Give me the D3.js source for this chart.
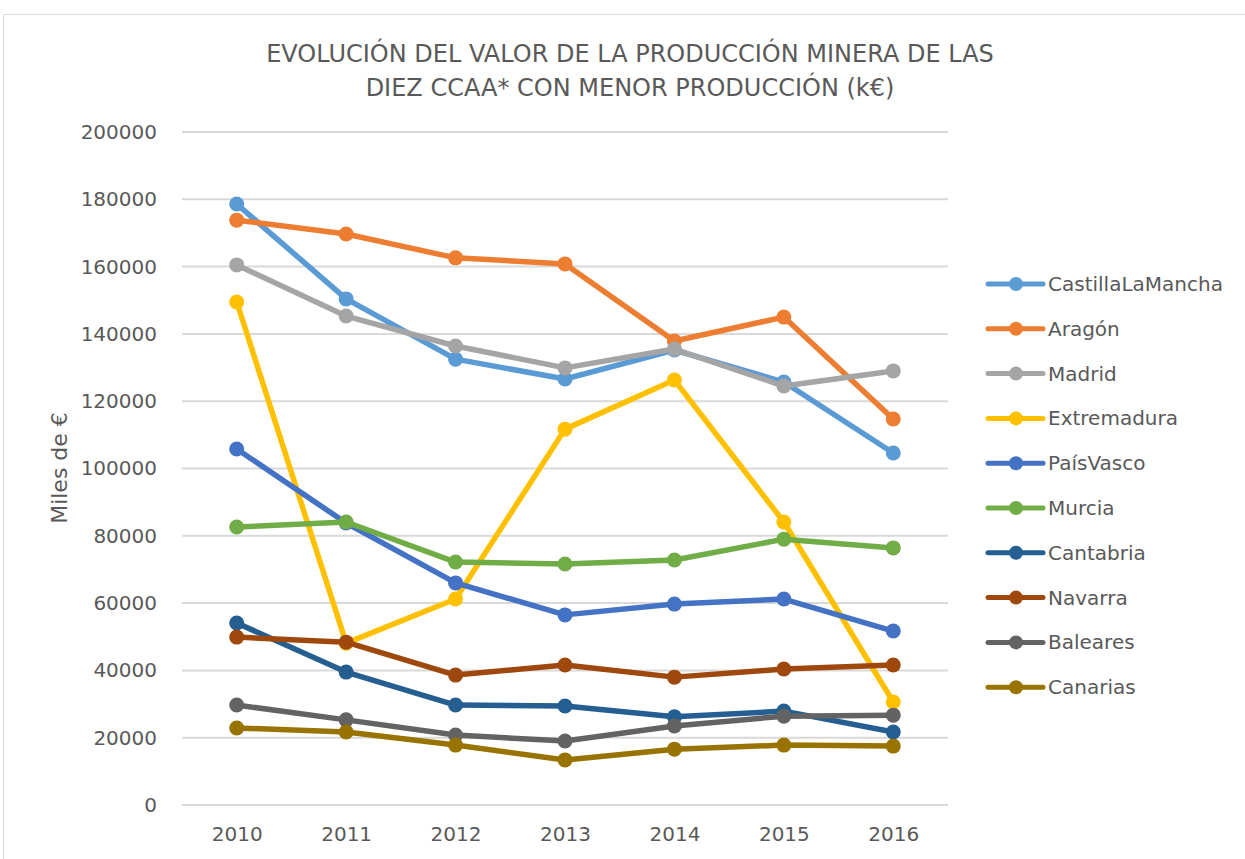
<!DOCTYPE html>
<html>
<head>
<meta charset="utf-8">
<script src="https://cdn.jsdelivr.net/npm/d3@7"></script>
<style>
  body { margin: 0; background: #fff; }
  svg { display: block; font-family: "DejaVu Sans", sans-serif; }
</style>
</head>
<body>
<svg id="chart" width="1245" height="859"></svg>
<script>
// Data
var years = ["2010", "2011", "2012", "2013", "2014", "2015", "2016"];
var regions = ["CastillaLaMancha", "Aragón", "Madrid", "Extremadura", "PaísVasco",
  "Murcia", "Cantabria", "Navarra", "Baleares", "Canarias"];
var castillaLaMancha = [178600, 150400, 132500, 126600, 135200, 125700, 104600];
var aragon = [173800, 169700, 162600, 160800, 137900, 145000, 114700];
var madrid = [160500, 145300, 136400, 129900, 135500, 124500, 129000];
var extremadura = [149500, 48100, 61200, 111700, 126300, 84100, 30600];
var paisVasco = [105800, 83800, 66000, 56500, 59700, 61200, 51700];
var murcia = [82600, 84100, 72200, 71600, 72800, 79000, 76400];
var cantabria = [54100, 39500, 29700, 29400, 26200, 27900, 21700];
var navarra = [49900, 48400, 38600, 41600, 38000, 40400, 41600];
var baleares = [29700, 25300, 20800, 19000, 23500, 26400, 26700];
var canarias = [22900, 21700, 17800, 13400, 16600, 17800, 17500];
var yTicks = [0, 20000, 40000, 60000, 80000, 100000, 120000, 140000, 160000, 180000, 200000];

var colors = ["#5B9BD5", "#ED7D31", "#A5A5A5", "#FFC000", "#4472C4",
  "#70AD47", "#255E91", "#9E480E", "#636363", "#997300"];
var seriesValues = [castillaLaMancha, aragon, madrid, extremadura, paisVasco,
  murcia, cantabria, navarra, baleares, canarias];

var series = regions.map((name, i) => ({
  name: name,
  color: colors[i],
  values: seriesValues[i].map((v, j) => ({ year: years[j], value: v }))
}));

var svg = d3.select("#chart");

// Chart frame
svg.append("rect")
  .attr("x", 3.5).attr("y", 14.5)
  .attr("width", 1260).attr("height", 860)
  .attr("fill", "none")
  .attr("stroke", "#d9d9d9")
  .attr("stroke-width", 1);

var plot = { left: 182, right: 948, top: 132, bottom: 805 };

var x = d3.scalePoint()
  .domain(years)
  .range([plot.left, plot.right])
  .padding(0.5);

var y = d3.scaleLinear()
  .domain([0, 200000])
  .range([plot.bottom, plot.top]);

// Title
var title = svg.append("text")
  .attr("text-anchor", "middle")
  .attr("fill", "#595959")
  .style("font-size", "24px");
title.append("tspan").attr("x", 630).attr("y", 62)
  .text("EVOLUCIÓN DEL VALOR DE LA PRODUCCIÓN MINERA DE LAS");
title.append("tspan").attr("x", 630).attr("y", 96)
  .text("DIEZ CCAA* CON MENOR PRODUCCIÓN (k€)");

// Gridlines
svg.append("g")
  .selectAll("line")
  .data(yTicks)
  .enter()
  .append("line")
  .attr("x1", plot.left).attr("x2", plot.right)
  .attr("y1", d => y(d)).attr("y2", d => y(d))
  .attr("stroke", "#d9d9d9")
  .attr("stroke-width", 2);

// Y axis labels
var yAxis = svg.append("g")
  .attr("transform", "translate(" + (plot.left - 25) + ",0)")
  .call(d3.axisLeft(y).tickValues(yTicks).tickSize(0).tickPadding(0).tickFormat(d3.format("d")));
yAxis.select(".domain").remove();
yAxis.selectAll("text")
  .attr("fill", "#595959")
  .style("font-size", "20px")
  .style("font-family", "DejaVu Sans, sans-serif");

// X axis labels
var xAxis = svg.append("g")
  .attr("transform", "translate(0," + plot.bottom + ")")
  .call(d3.axisBottom(x).tickSize(0).tickPadding(22));
xAxis.select(".domain").remove();
xAxis.selectAll("text")
  .attr("fill", "#595959")
  .style("font-size", "20px")
  .style("font-family", "DejaVu Sans, sans-serif");

// Y axis title
svg.append("text")
  .attr("transform", "translate(67,468) rotate(-90)")
  .attr("text-anchor", "middle")
  .attr("fill", "#595959")
  .style("font-size", "22px")
  .text("Miles de €");

// Lines
var line = d3.line()
  .x(d => x(d.year))
  .y(d => y(d.value));

var g = svg.append("g");

series.forEach(s => {
  g.append("path")
    .datum(s.values)
    .attr("d", line)
    .attr("fill", "none")
    .attr("stroke", s.color)
    .attr("stroke-width", 5.5)
    .attr("stroke-linejoin", "round")
    .attr("stroke-linecap", "round");
  g.selectAll(null)
    .data(s.values)
    .enter()
    .append("circle")
    .attr("cx", d => x(d.year))
    .attr("cy", d => y(d.value))
    .attr("r", 7.5)
    .attr("fill", s.color);
});

// Legend
var legend = svg.append("g")
  .selectAll("g")
  .data(series)
  .enter()
  .append("g")
  .attr("transform", (d, i) => "translate(988," + (284 + i * 44.8) + ")");

legend.append("line")
  .attr("x1", 0).attr("x2", 55)
  .attr("stroke", d => d.color)
  .attr("stroke-width", 5)
  .attr("stroke-linecap", "round");
legend.append("circle")
  .attr("cx", 28)
  .attr("r", 7)
  .attr("fill", d => d.color);
legend.append("text")
  .attr("x", 60)
  .attr("dy", "0.35em")
  .attr("fill", "#595959")
  .style("font-size", "20px")
  .text(d => d.name);
</script>
</body>
</html>
